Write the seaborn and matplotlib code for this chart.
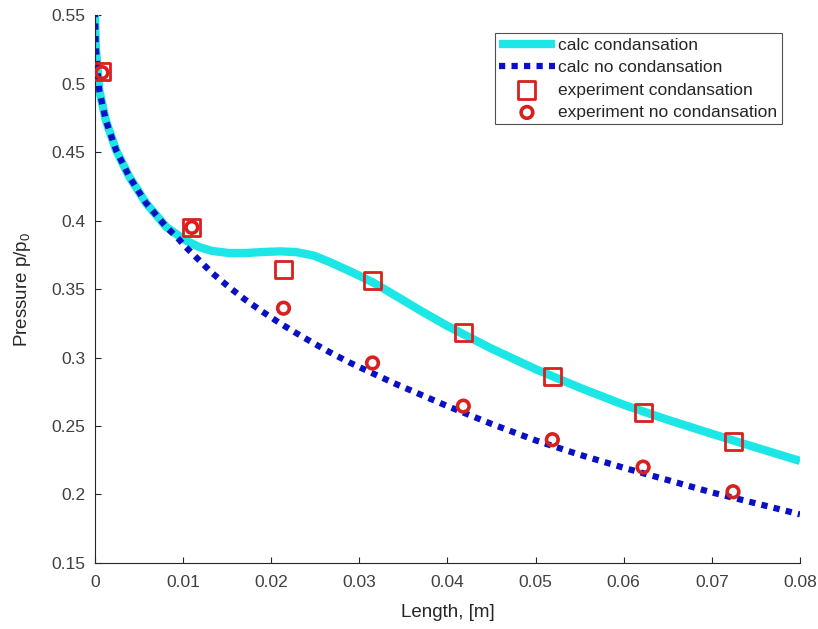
import matplotlib
matplotlib.use("Agg")
import matplotlib.pyplot as plt
import seaborn as sns
import pandas as pd

# Calculated pressure profiles along the nozzle
length_calc = [0.0, 0.0001, 0.0005, 0.00125, 0.0024, 0.0039, 0.0058, 0.0081,
               0.0095, 0.0103, 0.0118, 0.0133, 0.0152, 0.0171, 0.019, 0.021,
               0.0228, 0.0248, 0.0266, 0.029, 0.0315, 0.0342, 0.037, 0.04,
               0.045, 0.05, 0.055, 0.06, 0.065, 0.07, 0.075, 0.08]
p_calc_cond = [0.553, 0.527, 0.495, 0.473, 0.4515, 0.432, 0.4128, 0.3953,
               0.389, 0.3855, 0.3807, 0.3778, 0.3763, 0.3763, 0.377, 0.3775,
               0.377, 0.3745, 0.3698, 0.3628, 0.355, 0.3448, 0.334, 0.323,
               0.3065, 0.2915, 0.278, 0.2655, 0.2545, 0.2443, 0.2343, 0.2245]
p_calc_nocond = [0.553, 0.527, 0.495, 0.473, 0.4515, 0.432, 0.4128, 0.3953,
                 0.3865, 0.3807, 0.3712, 0.3617, 0.3515, 0.342, 0.3335, 0.325,
                 0.318, 0.3105, 0.304, 0.296, 0.2885, 0.2805, 0.2728, 0.2645,
                 0.2515, 0.2395, 0.229, 0.2195, 0.2105, 0.2015, 0.1935, 0.1855]

# Measured pressures
length_exp = [0.0008, 0.011, 0.0214, 0.0315, 0.0418, 0.0519, 0.0622, 0.0724]
p_exp_cond = [0.509, 0.395, 0.364, 0.356, 0.318, 0.286, 0.260, 0.239]
p_exp_nocond = [0.508, 0.395, 0.336, 0.296, 0.2645, 0.240, 0.220, 0.202]

x_ticks = [0, 0.01, 0.02, 0.03, 0.04, 0.05, 0.06, 0.07, 0.08]
x_ticklabels = ["0", "0.01", "0.02", "0.03", "0.04", "0.05", "0.06", "0.07", "0.08"]
y_ticks = [0.15, 0.2, 0.25, 0.3, 0.35, 0.4, 0.45, 0.5, 0.55]
y_ticklabels = ["0.15", "0.2", "0.25", "0.3", "0.35", "0.4", "0.45", "0.5", "0.55"]

sns.set_theme(style="white")
plt.rcParams["font.family"] = ["Liberation Sans", "DejaVu Sans"]
plt.rcParams["mathtext.fontset"] = "custom"
plt.rcParams["mathtext.rm"] = "Liberation Sans"
plt.rcParams["mathtext.it"] = "Liberation Sans"

calc = pd.DataFrame({"length": length_calc, "cond": p_calc_cond, "nocond": p_calc_nocond})
exp = pd.DataFrame({"length": length_exp, "cond": p_exp_cond, "nocond": p_exp_nocond})

fig = plt.figure(figsize=(8.18, 6.29), dpi=100)
ax = fig.add_axes([0.116, 0.105, 0.862, 0.871])

cyan = "#1de6e6"
blue = "#0a10c4"
red = "#d8201e"

sns.lineplot(data=calc, x="length", y="cond", ax=ax, color=cyan, linewidth=6,
             label="calc condansation", solid_capstyle="butt",
             solid_joinstyle="round")
sns.lineplot(data=calc, x="length", y="nocond", ax=ax, color=blue, linewidth=4.5,
             linestyle=(0, (1.0, 1.0)), dash_capstyle="butt",
             label="calc no condansation")
sns.scatterplot(data=exp, x="length", y="cond", ax=ax, marker="s", s=150,
                facecolor="none", edgecolor=red, linewidth=2.0,
                label="experiment condansation", zorder=5)
sns.scatterplot(data=exp, x="length", y="nocond", ax=ax, marker="o", s=70,
                facecolor="none", edgecolor=red, linewidth=2.6,
                label="experiment no condansation", zorder=6)

ax.set_xlim(0, 0.08)
ax.set_ylim(0.15, 0.55)
ax.set_xticks(x_ticks)
ax.set_xticklabels(x_ticklabels)
ax.set_yticks(y_ticks)
ax.set_yticklabels(y_ticklabels)

ax.set_xlabel("Length, [m]", fontsize=13.5, color="#262626", labelpad=10)
ax.set_ylabel("Pressure p/p$_0$", fontsize=13.5, color="#262626", labelpad=13)

sns.despine(ax=ax)
for side in ("left", "bottom"):
    ax.spines[side].set_color("#262626")
    ax.spines[side].set_linewidth(0.8)
ax.tick_params(axis="both", direction="in", length=4, width=0.8, colors="#262626",
               labelsize=12.5, labelcolor="#404040")
ax.tick_params(axis="x", pad=9)
ax.tick_params(axis="y", pad=7)
ax.tick_params(axis="both", bottom=True, left=True)

leg = ax.legend(loc="upper right", bbox_to_anchor=(0.974, 0.967), fontsize=12.5,
                frameon=True, fancybox=False, edgecolor="#262626",
                handlelength=3.2, handletextpad=0.2, labelspacing=0.42,
                borderpad=0.25, borderaxespad=0.0)
leg.get_frame().set_linewidth(0.8)
for t in leg.get_texts():
    t.set_color("#262626")

fig.savefig("out.png", dpi=100)
